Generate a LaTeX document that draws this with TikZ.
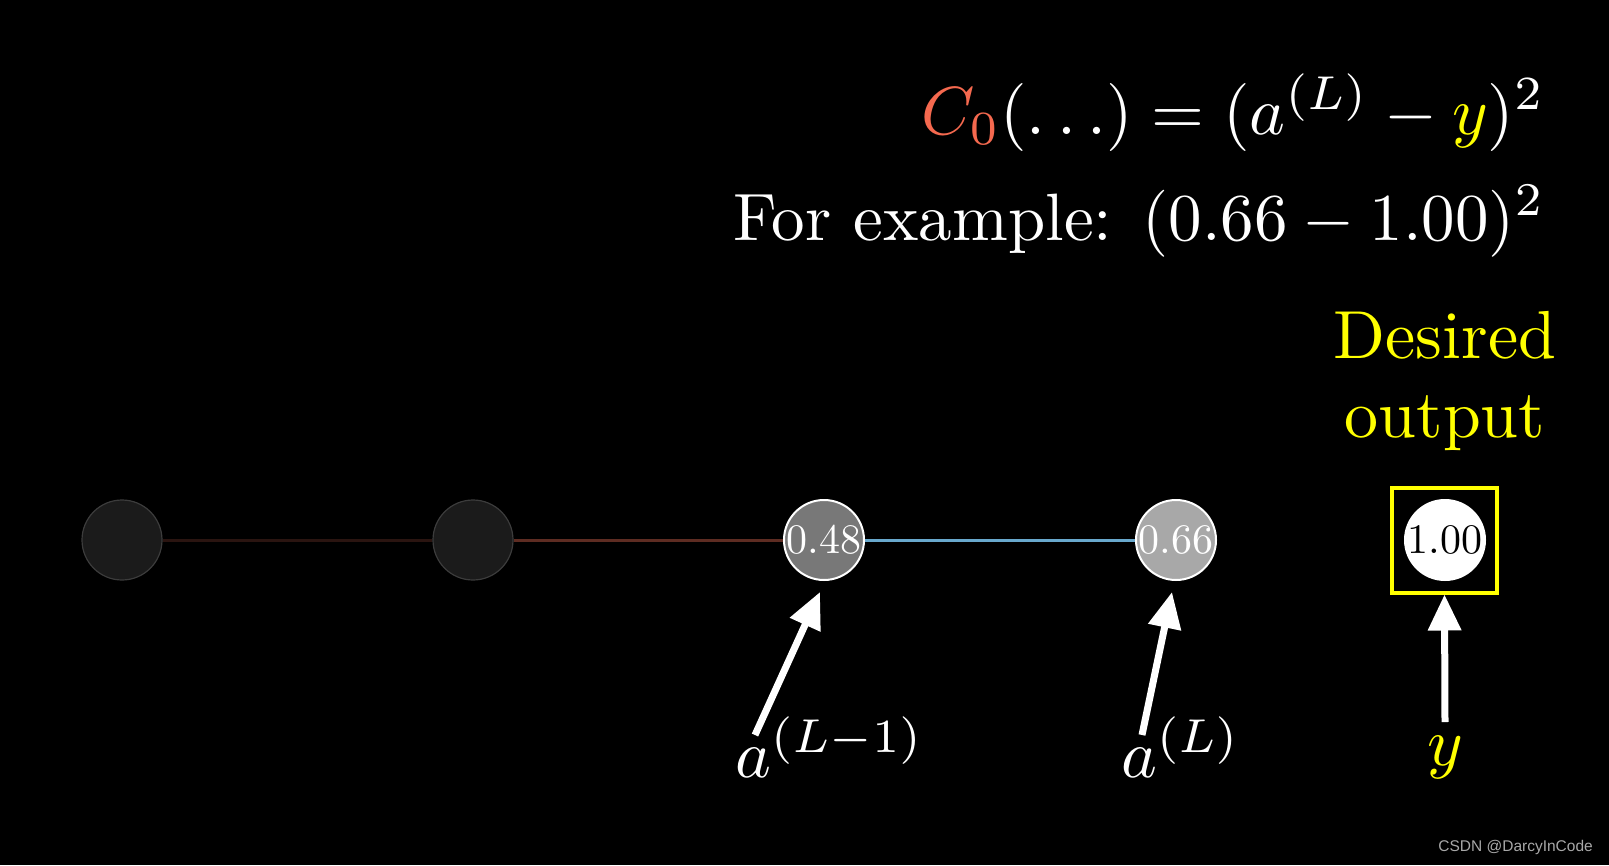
\documentclass[tikz,border=0pt]{standalone}
\usepackage{amsmath}
\usepackage{graphicx}
\usepackage{fontspec}
\newfontfamily\wmfont{Liberation Sans}
\usetikzlibrary{arrows.meta}
\definecolor{cred}{HTML}{F5694F}
\definecolor{yel}{HTML}{FFFF00}
\definecolor{dimfill}{HTML}{1B1B1B}
\definecolor{dimedge}{HTML}{3C3C3C}
\definecolor{actA}{HTML}{787878}
\definecolor{actB}{HTML}{A8A8A8}
\definecolor{wfaint}{HTML}{2A1410}
\definecolor{wred}{HTML}{5E2C22}
\definecolor{wblue}{HTML}{68A8CC}
\definecolor{wmgray}{HTML}{A8A8A8}
\newcommand\bigt[1]{\scalebox{6.8}{#1}}
\newcommand\nodet[1]{\scalebox{4.2}{#1}}
\tikzset{
  neuron/.style={circle, minimum size=80pt, inner sep=0pt},
  dimneuron/.style={neuron, fill=dimfill, draw=dimedge, line width=1.2pt},
  actneuron/.style={neuron, draw=white, line width=2pt, text=white},
  edgeline/.style={line width=3pt},
  pointer/.style={white, line width=7pt, -{Triangle[width=32pt,length=36pt]}},
  bigtext/.style={text=white, inner sep=0pt},
}
\begin{document}
\begin{tikzpicture}[x=1pt,y=-1pt]
\useasboundingbox (0,0) rectangle (1609,865);
\fill[black] (0,0) rectangle (1609,865);

% neurons
\node[dimneuron] (n1) at (122,540) {};
\node[dimneuron] (n2) at (473,540) {};
\node[actneuron, fill=actA] (n3) at (824,540) {\nodet{0.48}};
\node[actneuron, fill=actB] (n4) at (1176,540) {\nodet{0.66}};
\node[draw=yel, line width=4pt, minimum size=105pt, inner sep=0pt] (box) at (1444.5,540) {};
\node[neuron, minimum size=82pt, fill=white, text=black] (n5) at (1445,540) {\nodet{1.00}};

% connections
\draw[edgeline, wfaint] (n1) -- (n2);
\draw[edgeline, wred] (n2) -- (n3);
\draw[edgeline, wblue] (n3) -- (n4);

% formulas
\node[bigtext, anchor=base east] (f1) at (1545,134)
  {\bigt{$\textcolor{cred}{C_0}(\ldots) = (a^{(L)} - \textcolor{yel}{y})^2$}};
\node[bigtext, anchor=base east] (f2) at (1545,240)
  {\scalebox{6.7}{For example:\hspace{0.45em}$(0.66 - 1.00)^2$}};

% desired output
\node[bigtext, text=yel, anchor=base] (d1) at (1445,358) {\bigt{Desired}};
\node[bigtext, text=yel, anchor=base] (d2) at (1445,437) {\bigt{output}};

% labels
\node[bigtext, anchor=base west] (l1) at (735,777) {\bigt{$a^{(L-1)}$}};
\node[bigtext, anchor=base west] (l2) at (1121,777) {\bigt{$a^{(L)}$}};
\node[bigtext, text=yel, anchor=base] (l3) at (1445,765) {\bigt{$y$}};

% pointer arrows
\coordinate (t1) at (755,735);
\coordinate (h1) at (820,592);
\coordinate (t2) at (1142,735);
\coordinate (h2) at (1172,592);
\coordinate (t3) at (1445,722);
\draw[pointer] (t1) -- (h1);
\draw[pointer] (t2) -- (h2);
\draw[pointer] (t3) -- (box.south);

% watermark
\node[anchor=base east, inner sep=0pt, text=wmgray, font=\wmfont\fontsize{15.5}{15.5}\selectfont] (wm) at (1593,851) {CSDN @DarcyInCode};
\end{tikzpicture}
\end{document}
